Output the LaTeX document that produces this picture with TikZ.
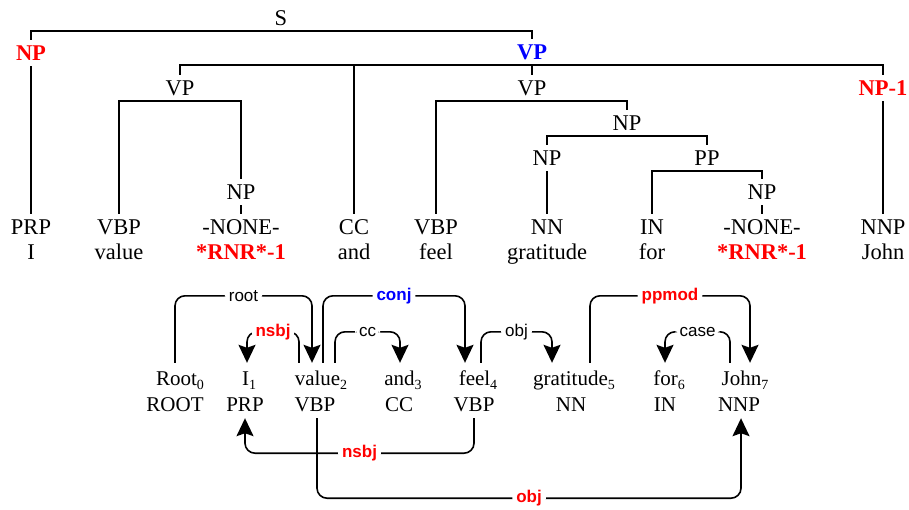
\documentclass[tikz,border=0pt]{standalone}
\usepackage{fontspec}
\setmainfont{Liberation Serif}
\newfontfamily\relfont{Liberation Sans}
\usetikzlibrary{arrows.meta}
\definecolor{tracered}{RGB}{255,  0,  0}
\definecolor{headblue}{RGB}{  0,  0,255}
% word index, set low and small
\newcommand{\wsub}[1]{\raisebox{-4pt}{\fontsize{14}{16}\selectfont #1}}

\begin{document}
\begin{tikzpicture}[x=1pt, y=-1pt,
  cat/.style={font=\fontsize{22.5}{24}\selectfont, text height=14pt, text depth=0pt,
              inner xsep=2pt, inner ysep=6pt},
  redcat/.style={cat, text=tracered, font=\fontsize{22.5}{24}\selectfont\bfseries},
  bluecat/.style={cat, text=headblue, font=\fontsize{22.5}{24}\selectfont\bfseries},
  branch/.style={line width=1.5pt},
  word/.style={font=\fontsize{21}{24}\selectfont, anchor=base, text height=14pt,
               text depth=0pt, inner ysep=8pt},
  tag/.style={word, inner ysep=7pt},
  dep/.style={line width=1.6pt, rounded corners=10pt,
              -{Stealth[length=18pt, width=17pt, inset=3pt]}},
  rel/.style={font=\relfont\fontsize{17}{20}\selectfont, fill=white,
              inner xsep=4pt, inner ysep=1pt, pos=0.25},
  keyrel/.style={rel, font=\relfont\bfseries\fontsize{17}{20}\selectfont},
]
  \useasboundingbox (0,0) rectangle (909,509);

  % constituency tree
  \node[cat]     (s)   at (281,18)  {S};
  \node[redcat]  (np0) at (31,53)   {NP};
  \node[bluecat] (vp0) at (532,52)  {VP};
  \node[cat]     (vp1) at (180,88)  {VP};
  \node[cat]     (vp2) at (532,88)  {VP};
  \node[redcat]  (np1) at (883,88)  {NP-1};
  \node[cat]     (npn) at (241,192) {NP};
  \node[cat]     (np2) at (627,123) {NP};
  \node[cat]     (np3) at (547,158) {NP};
  \node[cat]     (pp)  at (707,158) {PP};
  \node[cat]     (np4) at (762,192) {NP};
  % preterminals
  \node[cat] (prp)   at (31,227)  {PRP};
  \node[cat] (vbp1)  at (119,227) {VBP};
  \node[cat] (none1) at (241,227) {-NONE-};
  \node[cat] (cc)    at (354,227) {CC};
  \node[cat] (vbp2)  at (436,227) {VBP};
  \node[cat] (nn)    at (547,227) {NN};
  \node[cat] (in)    at (652,227) {IN};
  \node[cat] (none2) at (762,227) {-NONE-};
  \node[cat] (nnp)   at (883,227) {NNP};
  % leaves
  \node[cat]    (lI)     at (31,252)  {I};
  \node[cat]    (lvalue) at (119,252) {value};
  \node[redcat] (lrnr1)  at (241,252) {*RNR*-1};
  \node[cat]    (land)   at (354,252) {and};
  \node[cat]    (lfeel)  at (436,252) {feel};
  \node[cat]    (lgrat)  at (547,252) {gratitude};
  \node[cat]    (lfor)   at (652,252) {for};
  \node[redcat] (lrnr2)  at (762,252) {*RNR*-1};
  \node[cat]    (lJohn)  at (883,252) {John};

  \draw[branch] (np0.north) |- (s.south) -| (vp0.north);
  \draw[branch] (np0.south) -- (prp.north);
  \draw[branch] (vp1.north) |- (vp0.south) -| (np1.north);
  \draw[branch] (cc.north) -- (cc.north |- vp0.south);
  \draw[branch] (vp0.south) -- (vp2.north);
  \draw[branch] (np1.south) -- (nnp.north);
  \draw[branch] (vbp1.north) |- (vp1.south) -| (npn.north);
  \draw[branch] (npn.south) -- (none1.north);
  \draw[branch] (vbp2.north) |- (vp2.south) -| (np2.north);
  \draw[branch] (np3.north) |- (np2.south) -| (pp.north);
  \draw[branch] (np3.south) -- (nn.north);
  \draw[branch] (in.north) |- (pp.south) -| (np4.north);
  \draw[branch] (np4.south) -- (none2.north);

  % dependency words and tags
  \node[word] (w0) at (180,385) {Root\wsub{0}};
  \node[word] (w1) at (249,385) {I\wsub{1}};
  \node[word] (w2) at (321,385) {value\wsub{2}};
  \node[word] (w3) at (403,385) {and\wsub{3}};
  \node[word] (w4) at (478,385) {feel\wsub{4}};
  \node[word] (w5) at (574,385) {gratitude\wsub{5}};
  \node[word] (w6) at (669,385) {for\wsub{6}};
  \node[word] (w7) at (745,385) {John\wsub{7}};
  \node[tag] (t0) at (175,411) {ROOT};
  \node[tag] (t1) at (245,411) {PRP};
  \node[tag] (t2) at (315,411) {VBP};
  \node[tag] (t3) at (399,411) {CC};
  \node[tag] (t4) at (474,411) {VBP};
  \node[tag] (t5) at (571,411) {NN};
  \node[tag] (t6) at (665,411) {IN};
  \node[tag] (t7) at (739,411) {NNP};

  % arcs above the words
  \draw[dep] ([xshift=-5pt]w0.north) -- ++(0,-67)
    -| node[rel]{root} ([xshift=-9pt]w2.north);
  \draw[dep] ([xshift=2pt]w2.north) -- ++(0,-67)
    -| node[keyrel, text=headblue]{conj} ([xshift=-13pt]w4.north);
  \draw[dep] ([xshift=16pt]w5.north) -- ++(0,-67)
    -| node[keyrel, text=tracered]{ppmod} ([xshift=5pt]w7.north);
  \draw[dep] ([xshift=-22pt]w2.north) -- ++(0,-31)
    -| node[keyrel, text=tracered]{nsbj} ([xshift=-2pt]w1.north);
  \draw[dep] ([xshift=14pt]w2.north) -- ++(0,-31)
    -| node[rel]{cc} ([xshift=-3pt]w3.north);
  \draw[dep] ([xshift=3pt]w4.north) -- ++(0,-31)
    -| node[rel]{obj} ([xshift=-22pt]w5.north);
  \draw[dep] ([xshift=-15pt]w7.north) -- ++(0,-31)
    -| node[rel]{case} ([xshift=-4pt]w6.north);

  % arcs below the tags
  \draw[dep] (t4.south) -- ++(0,35)
    -| node[keyrel, text=tracered]{nsbj} (t1.south);
  \draw[dep] ([xshift=2pt]t2.south) -- ++(0,80)
    -| node[keyrel, text=tracered]{obj} ([xshift=2pt]t7.south);
\end{tikzpicture}
\end{document}
